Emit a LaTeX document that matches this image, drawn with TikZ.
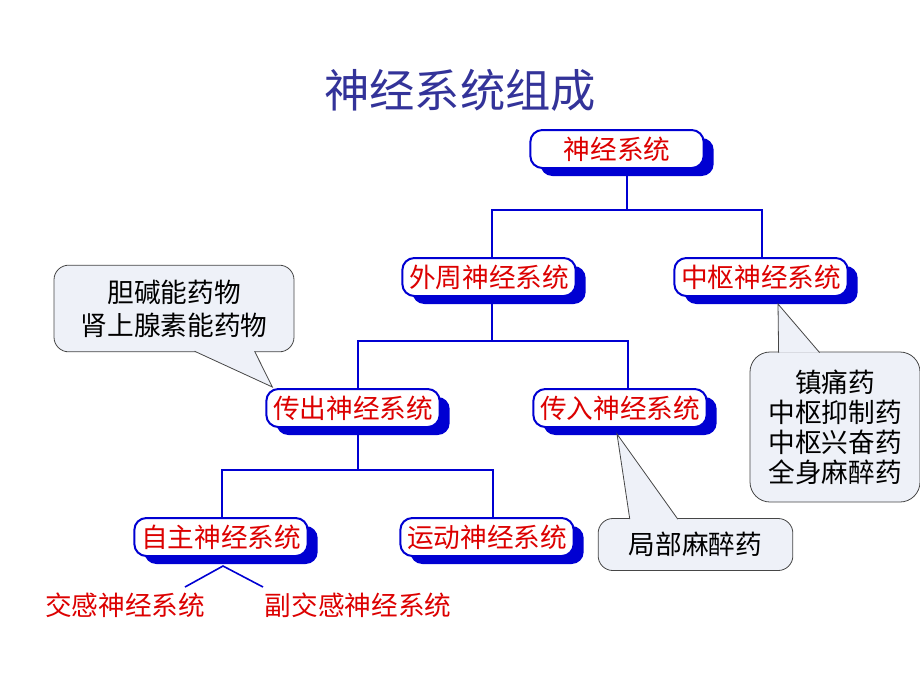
\documentclass[tikz,border=0pt]{standalone}
\usepackage{fontspec}
\setmainfont{Noto Sans CJK SC}
\usetikzlibrary{calc,shadows}
\definecolor{treeblue}{RGB}{0,0,210}
\definecolor{sysred}{RGB}{220,0,0}
\definecolor{titleblue}{RGB}{51,51,153}
\definecolor{notefill}{RGB}{238,241,248}
\definecolor{notegray}{RGB}{70,70,70}
\newcommand{\bubbletip}[3]{
	\fill[notefill] (#1) -- (#2) -- (#3) -- cycle;
	\draw[notegray, line width=0.6pt] (#1) -- (#2) -- (#3);
}
\tikzset{
	sysbox/.style={draw=treeblue, line width=1.5pt, fill=white, rounded corners=9pt,
		minimum width=130pt, minimum height=28.5pt, inner sep=1pt, text=sysred,
		font=\fontsize{20pt}{22pt}\selectfont,
		drop shadow={shadow xshift=7.5pt, shadow yshift=-6pt, fill=treeblue, opacity=1}},
	note/.style={draw=notegray, line width=0.6pt, fill=notefill, rounded corners=11pt,
		align=center, inner sep=1pt},
	link/.style={draw=treeblue, line width=1.5pt},
	leaf/.style={text=sysred, font=\fontsize{20pt}{22pt}\selectfont, inner sep=1pt}
}

\begin{document}
\begin{tikzpicture}[x=0.75pt,y=-0.75pt]
	\useasboundingbox (0,0) rectangle (920,690);
	\node[font=\fontsize{34pt}{36pt}\selectfont, text=titleblue] (title) at (460,90) {神经系统组成};

	% tree
	\node[sysbox] (ns) at (617,149) {神经系统};
	\node[sysbox] (wz) at (489,277) {外周神经系统};
	\node[sysbox] (zs) at (761,277) {中枢神经系统};
	\node[sysbox] (cc) at (353,408) {传出神经系统};
	\node[sysbox] (cr) at (620,408) {传入神经系统};
	\node[sysbox] (zz) at (221,537) {自主神经系统};
	\node[sysbox] (yd) at (487,537) {运动神经系统};
	\node[leaf] (jg) at (125,605) {交感神经系统};
	\node[leaf] (fjg) at (358,605) {副交感神经系统};

	\coordinate (j1) at (627,210);
	\coordinate (j2) at (492,341);
	\coordinate (j3) at (358,470);
	\coordinate (fork) at ($(zz.south)+(2,9)$);
	\coordinate (jgend) at (185,587);
	\coordinate (fjgend) at (263,587);

	\draw[link] (ns.south -| j1) -- (j1);
	\draw[link] ([xshift=2.25pt]wz.north) |- (j1) -| ([xshift=0.75pt]zs.north);
	\draw[link] (wz.south -| j2) -- (j2);
	\draw[link] ([xshift=3.75pt]cc.north) |- (j2) -| ([xshift=6pt]cr.north);
	\draw[link] (cc.south -| j3) -- (j3);
	\draw[link] ([xshift=0.75pt]zz.north) |- (j3) -| ([xshift=4.5pt]yd.north);
	\draw[link, line width=1.2pt] (jgend) -- (fork) -- (fjgend);

	% drug notes
	\node[note, minimum width=180pt, minimum height=65pt,
		font=\fontsize{20pt}{24.75pt}\selectfont] (cholin) at (174,308.5) {胆碱能药物\\肾上腺素能药物};
	\node[note, minimum width=127.5pt, minimum height=112.5pt, rounded corners=15pt,
		font=\fontsize{20pt}{22.5pt}\selectfont] (central) at (835,427) {镇痛药\\中枢抑制药\\中枢兴奋药\\全身麻醉药};
	\node[note, minimum width=146pt, minimum height=39pt,
		font=\fontsize{20pt}{22pt}\selectfont] (local) at (695.5,544.5) {局部麻醉药};

	\bubbletip{$(cholin.south west)+(141,-1)$}{$(cc.north west)+(7,-1)$}{$(cholin.south west)+(201,-1)$}
	\bubbletip{$(central.north west)+(29,1)$}{$(zs.south)+(17,7)$}{$(central.north west)+(70,1)$}
	\bubbletip{$(local.north west)+(32,1)$}{$(cr.south)+(-3,6)$}{$(local.north west)+(80,1)$}
\end{tikzpicture}
\end{document}
